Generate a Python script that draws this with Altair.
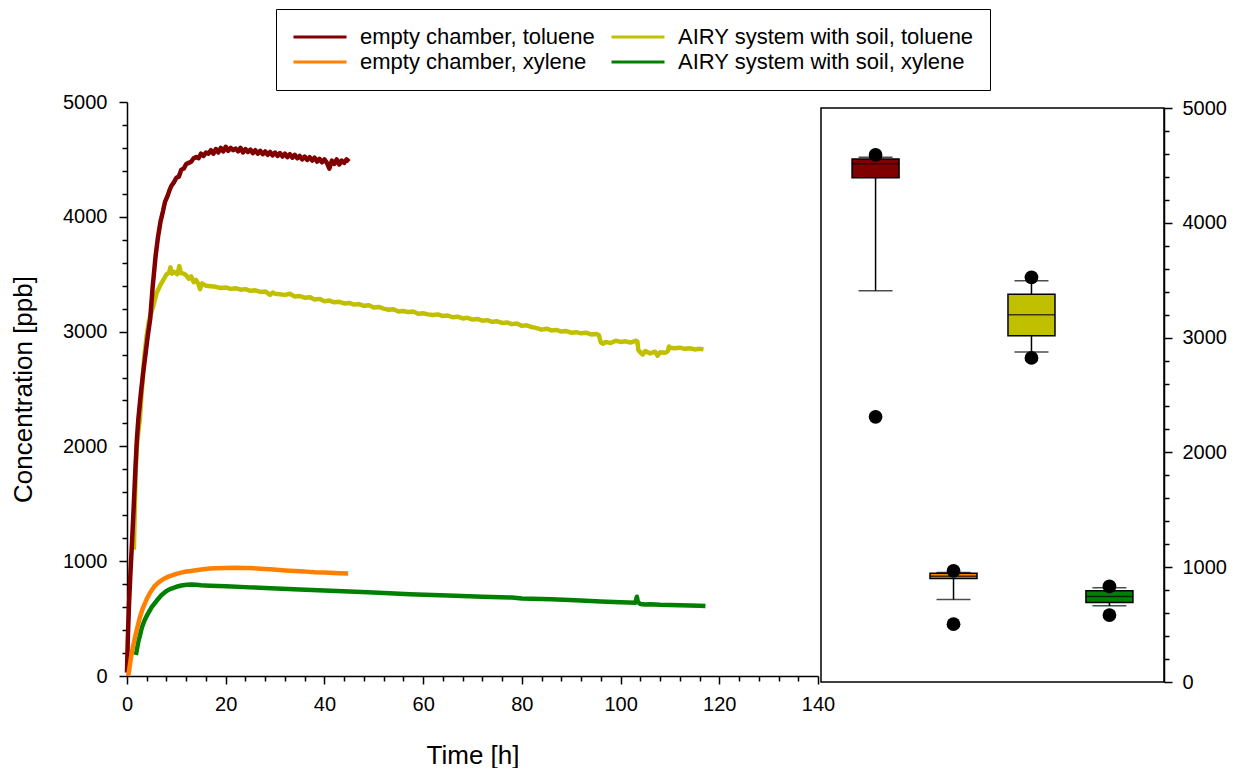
import altair as alt
import pandas as pd

# ---------------- data ----------------
series_names = ["empty chamber, toluene", "empty chamber, xylene",
                "AIRY system with soil, toluene", "AIRY system with soil, xylene"]
series_colors = ["#800000", "#FF8000", "#C0C000", "#008000"]

red_t = [0.0, 0.15, 0.4, 0.7, 1.0, 1.3, 1.7, 2.0, 2.3, 2.8, 3.3, 3.8, 4.2, 4.7, 5.2, 5.8, 6.3, 6.8, 7.3, 7.7,
         8.2, 8.6, 9.0, 9.5, 10.0, 10.5, 11.0, 11.5, 12.0, 12.5, 13.0, 13.5, 14.0, 14.5, 15.0, 15.5, 16.0,
         16.5, 17.0, 17.5, 18.0, 18.5, 19.0, 19.5, 20.0, 20.5, 21.0, 21.5, 22.0, 22.5, 23.0, 23.5, 24.0,
         24.5, 25.0, 25.5, 26.0, 26.5, 27.0, 27.5, 28.0, 28.5, 29.0, 29.5, 30.0, 30.5, 31.0, 31.5, 32.0,
         32.5, 33.0, 33.5, 34.0, 34.5, 35.0, 35.5, 36.0, 36.5, 37.0, 37.5, 38.0, 38.5, 39.0, 39.5, 40.0,
         40.5, 41.0, 41.5, 42.0, 42.5, 43.0, 43.5, 44.0, 44.5, 45.0]
red_v = [30, 300, 620, 900, 1150, 1420, 1800, 2060, 2240, 2460, 2650, 2820, 2960, 3110, 3390, 3660, 3830,
         3960, 4050, 4130, 4180, 4230, 4270, 4300, 4340, 4350, 4410, 4420, 4460, 4470, 4480, 4510, 4520,
         4510, 4550, 4530, 4560, 4550, 4580, 4550, 4590, 4560, 4600, 4570, 4610, 4575, 4600, 4580, 4595,
         4570, 4600, 4560, 4590, 4565, 4585, 4555, 4580, 4550, 4575, 4545, 4570, 4540, 4565, 4535, 4560,
         4530, 4555, 4525, 4550, 4520, 4545, 4515, 4540, 4510, 4530, 4500, 4525, 4495, 4520, 4490, 4515,
         4480, 4505, 4475, 4500, 4470, 4420, 4490, 4460, 4500, 4455, 4490, 4470, 4500, 4480]

orange_t = [0.25, 0.5, 0.8, 1.2, 1.6, 2.0, 2.6, 3.2, 4.0, 4.7, 5.5, 6.4, 7.4, 8.5, 10.0, 11.0, 12.0, 13.0,
            14.0, 15.0, 16.8, 18.0, 20.0, 22.0, 23.6, 25.0, 27.0, 29.0, 30.3, 32.0, 33.0, 35.0, 37.0, 38.0,
            40.0, 42.0, 43.0, 44.8]
orange_v = [0, 70, 160, 255, 330, 405, 510, 590, 670, 728, 778, 815, 845, 868, 890, 900, 910, 915, 922, 928,
            936, 938, 941, 942, 941, 940, 935, 930, 925, 920, 917, 912, 907, 903, 902, 898, 896, 893]

yellow_t = [1.4, 1.6, 1.8, 2.0, 2.3, 2.6, 3.0, 3.5, 4.0, 4.5, 5.3, 6.0, 6.7, 7.4, 8.0, 8.5, 8.8, 9.1, 9.6,
            10.2, 10.6, 10.9, 11.5, 12.0, 12.5, 13.0, 13.5, 14.0, 14.5, 14.8, 15.2, 16.0, 17.0, 18.0, 19.0,
            20.0, 21.0, 22.0, 23.0, 24.0, 25.0, 26.0, 27.0, 28.0, 29.0, 29.5, 30.0, 32.0, 33.0, 34.0, 35.0,
            36.0, 37.0, 38.0, 39.0, 40.0, 41.0, 42.0, 43.0, 44.0, 45.0, 46.0, 47.0, 48.0, 49.0, 50.0, 51.0,
            52.0, 53.0, 54.0, 55.0, 56.0, 57.0, 58.0, 59.0, 60.0, 61.0, 62.0, 63.0, 64.0, 65.0, 66.0, 67.0,
            68.0, 69.0, 70.0, 71.0, 72.0, 73.0, 74.0, 75.0, 76.0, 77.0, 78.0, 79.0, 80.0, 81.0, 82.0, 83.0,
            84.0, 85.0, 86.0, 87.0, 88.0, 89.0, 90.0, 91.0, 92.0, 93.0, 94.0, 95.0, 95.6, 96.0, 96.5, 97.0,
            98.0, 99.0, 100.0, 101.0, 102.0, 103.0, 103.4, 103.6, 104.0, 104.5, 105.0, 106.0, 107.0, 107.5,
            108.0, 109.0, 109.6, 109.8, 110.0, 111.0, 112.0, 113.0, 114.0, 115.0, 116.0, 116.8]
yellow_v = [1100, 1500, 1830, 2000, 2130, 2235, 2480, 2780, 2970, 3104, 3220, 3336, 3400, 3452, 3500, 3510,
            3560, 3505, 3520, 3500, 3570, 3510, 3505, 3490, 3460, 3480, 3430, 3450, 3410, 3370, 3420, 3400,
            3395, 3390, 3380, 3385, 3372, 3378, 3365, 3370, 3355, 3360, 3345, 3350, 3320, 3340, 3330, 3320,
            3330, 3305, 3310, 3295, 3300, 3280, 3285, 3265, 3270, 3255, 3260, 3245, 3250, 3235, 3240, 3225,
            3230, 3210, 3215, 3200, 3190, 3195, 3175, 3180, 3170, 3175, 3155, 3160, 3150, 3145, 3150, 3135,
            3140, 3125, 3130, 3115, 3120, 3105, 3110, 3095, 3100, 3085, 3090, 3075, 3080, 3065, 3070, 3050,
            3055, 3040, 3030, 3017, 3025, 3010, 3015, 3000, 3005, 2990, 2995, 2985, 2990, 2975, 2980, 2970,
            2905, 2895, 2910, 2900, 2920, 2910, 2915, 2905, 2920, 2915, 2840, 2820, 2800, 2830, 2810, 2825,
            2790, 2820, 2815, 2830, 2870, 2860, 2855, 2860, 2850, 2855, 2845, 2850, 2845]

green_t = [1.8, 2.0, 2.3, 2.6, 3.0, 3.5, 4.0, 5.0, 6.0, 7.0, 8.0, 8.7, 10.0, 11.0, 12.1, 13.0, 14.0, 15.0,
           16.8, 20.0, 25.0, 30.3, 35.0, 40.0, 43.8, 50.0, 57.3, 65.0, 72.0, 78.0, 80.0, 86.0, 92.0, 96.0,
           100.0, 103.0, 103.3, 103.5, 104.0, 105.0, 106.0, 108.0, 110.0, 112.0, 114.0, 116.0, 117.2]
green_v = [183, 230, 300, 350, 420, 480, 524, 600, 655, 705, 740, 757, 777, 788, 794, 797, 794, 790, 786,
           781, 772, 762, 753, 745, 739, 728, 713, 702, 690, 683, 675, 668, 658, 650, 643, 639, 690, 645,
           628, 622, 625, 620, 618, 616, 614, 612, 610]

# box-plot summary (order left to right)
box_names = ["empty chamber, toluene", "empty chamber, xylene",
             "AIRY system with soil, toluene", "AIRY system with soil, xylene"]
box_colors = ["#800000", "#FF8000", "#C0C000", "#008000"]
box_q1 = [4392, 902, 3017, 693]
box_med = [4515, 922, 3200, 745]
box_q3 = [4555, 948, 3377, 794]
box_wlo = [3409, 719, 2875, 664]
box_whi = [4571, 954, 3496, 820]
box_plo = [2310, 504, 2823, 583]
box_phi = [4591, 968, 3525, 832]

x_ticks = list(range(0, 141, 4))
y_ticks = list(range(0, 5001, 200))

# ---------------- tables ----------------
rows = []
for name, ts, vs in [(series_names[2], yellow_t, yellow_v), (series_names[3], green_t, green_v),
                     (series_names[0], red_t, red_v), (series_names[1], orange_t, orange_v)]:
    for t, v in zip(ts, vs):
        rows.append({"series": name, "t": t, "v": v})
df = pd.DataFrame(rows)

box_df = pd.DataFrame({"group": box_names, "q1": box_q1, "med": box_med, "q3": box_q3,
                       "wlo": box_wlo, "whi": box_whi, "plo": box_plo, "phi": box_phi})

FONT = "Liberation Sans"
axis_style = dict(labelFont=FONT, labelFontSize=20, titleFont=FONT, titleFontSize=26,
                  titleFontWeight="normal", labelColor="black", titleColor="black",
                  domainColor="black", tickColor="black", domainWidth=1.5, tickWidth=1.5,
                  grid=False, labelOverlap=False, labelFlush=False, format="d")

x_axis = alt.Axis(title="Time [h]", values=x_ticks, orient="bottom",
                  labelExpr="datum.value % 20 === 0 ? datum.label : ''",
                  tickSize={"condition": {"test": "datum.value % 20 === 0", "value": 8}, "value": 5},
                  labelPadding=10, titlePadding=28, **axis_style)
y_axis = alt.Axis(title="Concentration [ppb]", values=y_ticks, orient="left",
                  labelExpr="datum.value % 1000 === 0 ? datum.label : ''",
                  tickSize={"condition": {"test": "datum.value % 1000 === 0", "value": 8}, "value": 5},
                  labelPadding=12, titlePadding=26, **axis_style)
r_axis = alt.Axis(title=None, values=y_ticks, orient="right",
                  labelExpr="datum.value % 1000 === 0 ? datum.label : ''",
                  tickSize={"condition": {"test": "datum.value % 1000 === 0", "value": 8}, "value": 5},
                  labelPadding=10, **axis_style)

left = alt.Chart(df).mark_line(strokeWidth=4.5, strokeJoin="round").encode(
    x=alt.X("t:Q", scale=alt.Scale(domain=[0, 140], nice=False), axis=x_axis),
    y=alt.Y("v:Q", scale=alt.Scale(domain=[0, 5000], nice=False), axis=y_axis),
    color=alt.Color("series:N", scale=alt.Scale(domain=series_names, range=series_colors),
                    sort=series_names,
                    legend=alt.Legend(orient="none", legendX=149, legendY=-93, columns=2,
                                      title=None, symbolType="stroke", symbolSize=2809,
                                      symbolStrokeWidth=3, labelFont=FONT, labelFontSize=22,
                                      labelColor="black", labelLimit=400, labelOffset=12,
                                      clipHeight=24, columnPadding=15, rowPadding=1, padding=16,
                                      strokeColor="black", fillColor="white")),
    detail="series:N",
).properties(width=691, height=574, view=alt.ViewBackground(strokeOpacity=0))

xenc = alt.X("group:N", scale=alt.Scale(type="point", domain=box_names, padding=0.7), axis=None)
yscale = alt.Scale(domain=[0, 5000], nice=False)
base = alt.Chart(box_df)
whisk = base.mark_rule(color="black", strokeWidth=1.5).encode(
    x=xenc, y=alt.Y("wlo:Q", scale=yscale, axis=r_axis), y2="whi:Q")
boxes = base.mark_bar(size=47, stroke="black", strokeWidth=1.5).encode(
    x=xenc, y=alt.Y("q1:Q", scale=yscale, axis=r_axis), y2="q3:Q",
    fill=alt.Fill("group:N", scale=alt.Scale(domain=box_names, range=box_colors), legend=None))
med = base.mark_tick(size=47, thickness=1.5, color="black", orient="horizontal").encode(
    x=xenc, y=alt.Y("med:Q", scale=yscale, axis=r_axis))
cap_lo = base.mark_tick(size=34, thickness=1.5, color="black", orient="horizontal").encode(
    x=xenc, y=alt.Y("wlo:Q", scale=yscale, axis=r_axis))
cap_hi = base.mark_tick(size=34, thickness=1.5, color="black", orient="horizontal").encode(
    x=xenc, y=alt.Y("whi:Q", scale=yscale, axis=r_axis))
dot_lo = base.mark_circle(size=190, color="black", opacity=1).encode(
    x=xenc, y=alt.Y("plo:Q", scale=yscale, axis=r_axis))
dot_hi = base.mark_circle(size=190, color="black", opacity=1).encode(
    x=xenc, y=alt.Y("phi:Q", scale=yscale, axis=r_axis))

right = alt.layer(whisk, boxes, med, cap_lo, cap_hi, dot_lo, dot_hi).properties(
    width=343, height=574,
    view=alt.ViewBackground(stroke="black", strokeWidth=1.5))

spacer = alt.Chart(pd.DataFrame({"s": [0]})).mark_point(opacity=0).encode(
    x=alt.X("s:Q", axis=None), y=alt.Y("s:Q", axis=None)
).properties(width=343, height=1, view=alt.ViewBackground(strokeOpacity=0))

right_col = alt.vconcat(spacer, right, spacing=5, bounds="flush").resolve_scale(
    x="independent", y="independent")

chart = alt.hconcat(left, right_col, spacing=3, bounds="flush").resolve_scale(
    x="independent", y="independent").properties(
    padding={"left": 2, "top": 0, "right": 5, "bottom": 0}
).configure(font=FONT)

chart.save("out.html", embed_options={"renderer": "svg", "actions": False})
